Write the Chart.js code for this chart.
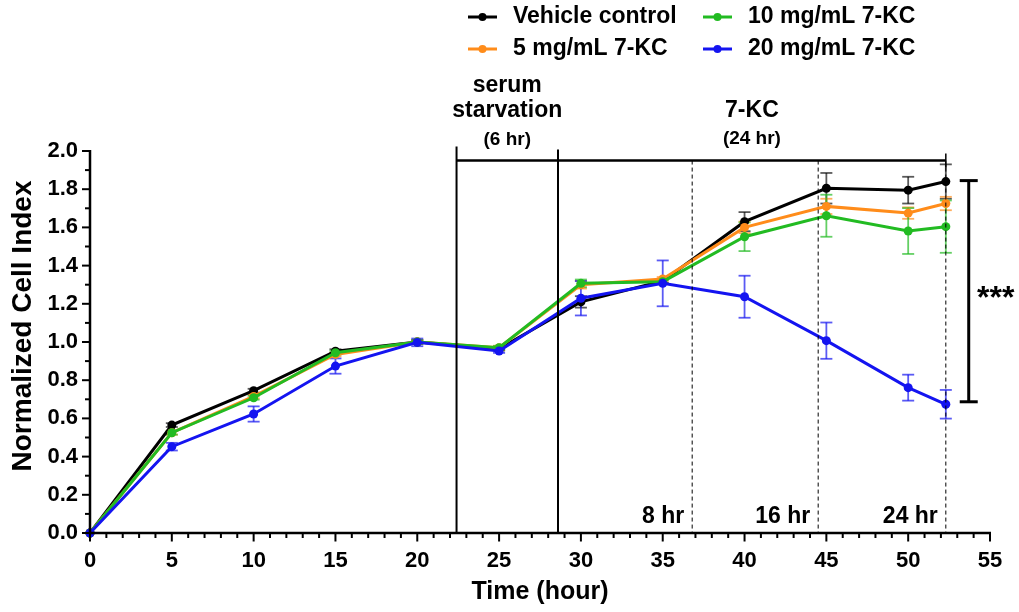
<!DOCTYPE html>
<html>
<head>
<meta charset="utf-8">
<script src="https://cdn.jsdelivr.net/npm/chart.js@4/dist/chart.umd.min.js"></script>
<style>
  html, body { margin: 0; padding: 0; background: #fff; }
</style>
</head>
<body>
<canvas id="canvas" width="1019" height="612"></canvas>
<script>
// data
const hours = [0, 5, 10, 15, 20, 25, 30, 35, 40, 45, 50, 52.3];
const seriesNames = ['Vehicle control', '5 mg/mL 7-KC', '10 mg/mL 7-KC', '20 mg/mL 7-KC'];
const vehicle = [0, 0.565, 0.745, 0.952, 1.0, 0.965, 1.21, 1.32, 1.63, 1.805, 1.795, 1.84];
const vehicleErr = [0, 0.01, 0.01, 0.01, 0.01, 0.01, 0.03, 0.01, 0.05, 0.08, 0.07, 0.09];
const kc5 = [0, 0.525, 0.715, 0.935, 1.0, 0.97, 1.30, 1.33, 1.60, 1.71, 1.675, 1.725];
const kc5Err = [0, 0.01, 0.01, 0.01, 0.01, 0.01, 0.02, 0.01, 0.03, 0.04, 0.03, 0.035];
const kc10 = [0, 0.525, 0.708, 0.944, 1.0, 0.97, 1.307, 1.316, 1.551, 1.661, 1.581, 1.604];
const kc10Err = [0, 0.01, 0.01, 0.01, 0.01, 0.01, 0.02, 0.01, 0.075, 0.11, 0.12, 0.137];
const kc20 = [0, 0.452, 0.623, 0.874, 0.998, 0.953, 1.229, 1.307, 1.237, 1.007, 0.761, 0.674];
const kc20Err = [0, 0.02, 0.04, 0.04, 0.02, 0.01, 0.09, 0.12, 0.11, 0.095, 0.068, 0.075];

const xTickValues = [0, 5, 10, 15, 20, 25, 30, 35, 40, 45, 50, 55];
const yTickValues = [0, 0.2, 0.4, 0.6, 0.8, 1.0, 1.2, 1.4, 1.6, 1.8, 2.0];

// timeline annotations
const serumStart = 22.4;
const treatStart = 28.6;
const checkpoints = [36.8, 44.5, 52.3];
const checkpointLabels = ['8 hr', '16 hr', '24 hr'];
const bracketLevel = 1.95;
const sigTop = 1.845, sigBottom = 0.687, sigX = 53.7;

const colors = ['#000000', '#ff8c1a', '#22bb22', '#1414f0'];
const errColors = ['rgba(0,0,0,0.65)', 'rgba(255,140,26,0.7)', 'rgba(34,187,34,0.7)', 'rgba(20,20,240,0.7)'];
const FONT = '"Liberation Sans", Arial, sans-serif';

function pts(vals) {
    return hours.map((h, i) => ({x: h, y: vals[i]}));
}

const allErr = [vehicleErr, kc5Err, kc10Err, kc20Err];

function line(ctx, x1, y1, x2, y2) {
    ctx.beginPath();
    ctx.moveTo(x1, y1);
    ctx.lineTo(x2, y2);
    ctx.stroke();
}

function text(ctx, t, x, y, size, align, base) {
    ctx.font = 'bold ' + size + 'px ' + FONT;
    ctx.textAlign = align || 'center';
    ctx.textBaseline = base || 'middle';
    ctx.fillStyle = '#000';
    ctx.fillText(t, x, y);
}

const overlay = {
    id: 'overlay',
    beforeDatasetsDraw(chart) {
        // error bars under the points
        const ctx = chart.ctx;
        const ys = chart.scales.y;
        ctx.save();
        ctx.lineWidth = 1.8;
        chart.data.datasets.forEach((ds, di) => {
            const meta = chart.getDatasetMeta(di);
            const err = allErr[di];
            meta.data.forEach((el, i) => {
                if (!err[i]) return;
                const v = ds.data[i].y;
                const top = ys.getPixelForValue(v + err[i]);
                const bot = ys.getPixelForValue(v - err[i]);
                ctx.strokeStyle = errColors[di];
                line(ctx, el.x, top, el.x, bot);
                line(ctx, el.x - 6, top, el.x + 6, top);
                line(ctx, el.x - 6, bot, el.x + 6, bot);
            });
        });
        ctx.restore();
    },
    afterDraw(chart) {
        const ctx = chart.ctx;
        const xs = chart.scales.x, ys = chart.scales.y;
        const x0 = xs.getPixelForValue(0), x1 = xs.getPixelForValue(55);
        const yb = ys.getPixelForValue(0), yt = ys.getPixelForValue(2);
        ctx.save();
        ctx.strokeStyle = '#000';
        ctx.lineCap = 'butt';

        // axes
        ctx.lineWidth = 2.5;
        line(ctx, x0, yt - 1, x0, yb + 1.25);
        line(ctx, x0 - 1.25, yb, x1 + 1, yb);
        ctx.lineWidth = 2;
        for (let v = 0; v <= 20; v++) {
            const p = ys.getPixelForValue(v / 10);
            line(ctx, x0 - (v % 2 === 0 ? 8 : 5), p, x0, p);
        }
        for (let h = 0; h <= 55; h++) {
            const p = xs.getPixelForValue(h);
            line(ctx, p, yb, p, yb + (h % 5 === 0 ? 8.5 : 5));
        }

        // phase lines
        const by = ys.getPixelForValue(bracketLevel);
        const sx = xs.getPixelForValue(serumStart);
        const tx = xs.getPixelForValue(treatStart);
        const ex = xs.getPixelForValue(checkpoints[checkpoints.length - 1]);
        ctx.lineWidth = 2;
        line(ctx, sx, by - 14, sx, yb);
        line(ctx, tx, by - 11, tx, yb);
        ctx.lineWidth = 2.5;
        line(ctx, sx, by, ex, by);
        ctx.lineWidth = 1.5;
        line(ctx, ex, by - 7, ex, by + 7);
        ctx.lineWidth = 1;
        ctx.setLineDash([4, 3]);
        checkpoints.forEach(c => {
            const p = xs.getPixelForValue(c);
            line(ctx, p, by, p, yb);
        });
        ctx.setLineDash([]);
        checkpoints.forEach((c, i) => {
            text(ctx, checkpointLabels[i], xs.getPixelForValue(c) - 8, 517, 23, 'right');
        });

        const sMid = (sx + tx) / 2, tMid = (tx + ex) / 2;
        text(ctx, 'serum', sMid, 86, 23);
        text(ctx, 'starvation', sMid, 111, 23);
        text(ctx, '(6 hr)', sMid, 140, 19);
        text(ctx, '7-KC', tMid, 111, 23);
        text(ctx, '(24 hr)', tMid, 139, 19);

        // significance bracket
        const gx = xs.getPixelForValue(sigX);
        const gt = ys.getPixelForValue(sigTop), gb = ys.getPixelForValue(sigBottom);
        ctx.lineWidth = 3;
        line(ctx, gx, gt, gx, gb);
        line(ctx, gx - 9, gt, gx + 9, gt);
        line(ctx, gx - 9, gb, gx + 9, gb);
        text(ctx, '***', gx + 27, (gt + gb) / 2 + 17, 32, 'center', 'alphabetic');

        // axis titles
        text(ctx, 'Time (hour)', (x0 + x1) / 2, 592, 25);
        ctx.save();
        ctx.translate(23, 326);
        ctx.rotate(-Math.PI / 2);
        text(ctx, 'Normalized Cell Index', 0, 0, 28);
        ctx.restore();

        // legend, two columns
        const spots = [[468, 17], [468, 49], [703, 17], [703, 49]];
        chart.data.datasets.forEach((ds, i) => {
            const [lx, ly] = spots[i];
            ctx.strokeStyle = ds.borderColor;
            ctx.lineWidth = 3;
            line(ctx, lx, ly, lx + 29, ly);
            ctx.fillStyle = ds.borderColor;
            ctx.beginPath();
            ctx.arc(lx + 14.5, ly, 4, 0, Math.PI * 2);
            ctx.fill();
            text(ctx, ds.label, lx + 45, ly, 23, 'left');
        });
        ctx.restore();
    }
};

const seriesData = [vehicle, kc5, kc10, kc20];
const drawOrder = [3, 2, 1, 0];

const chart = new Chart(document.getElementById('canvas').getContext('2d'), {
    type: 'line',
    data: {
        datasets: seriesData.map((vals, i) => ({
            label: seriesNames[i],
            data: pts(vals),
            borderColor: colors[i],
            backgroundColor: colors[i],
            borderWidth: 3,
            pointRadius: 4.5,
            pointHoverRadius: 4.5,
            pointBorderWidth: 0,
            clip: false,
            order: drawOrder[i]
        }))
    },
    plugins: [overlay],
    options: {
        responsive: false,
        animation: false,
        layout: {padding: {top: 151, right: 29, left: 0, bottom: 0}},
        plugins: {legend: {display: false}, tooltip: {enabled: false}},
        scales: {
            x: {
                type: 'linear',
                min: 0,
                max: 55,
                afterBuildTicks: s => { s.ticks = xTickValues.map(v => ({value: v})); },
                afterFit: s => { s.height = 79; },
                grid: {display: false, drawTicks: false},
                border: {display: false},
                ticks: {
                    padding: 15,
                    color: '#000',
                    font: {family: FONT, size: 22, weight: 'bold'}
                }
            },
            y: {
                min: 0,
                max: 2,
                afterBuildTicks: s => { s.ticks = yTickValues.map(v => ({value: v})); },
                afterFit: s => { s.width = 90; },
                grid: {display: false, drawTicks: false},
                border: {display: false},
                ticks: {
                    padding: 12,
                    color: '#000',
                    callback: v => v.toFixed(1),
                    font: {family: FONT, size: 22, weight: 'bold'}
                }
            }
        }
    }
});
</script>
</body>
</html>
